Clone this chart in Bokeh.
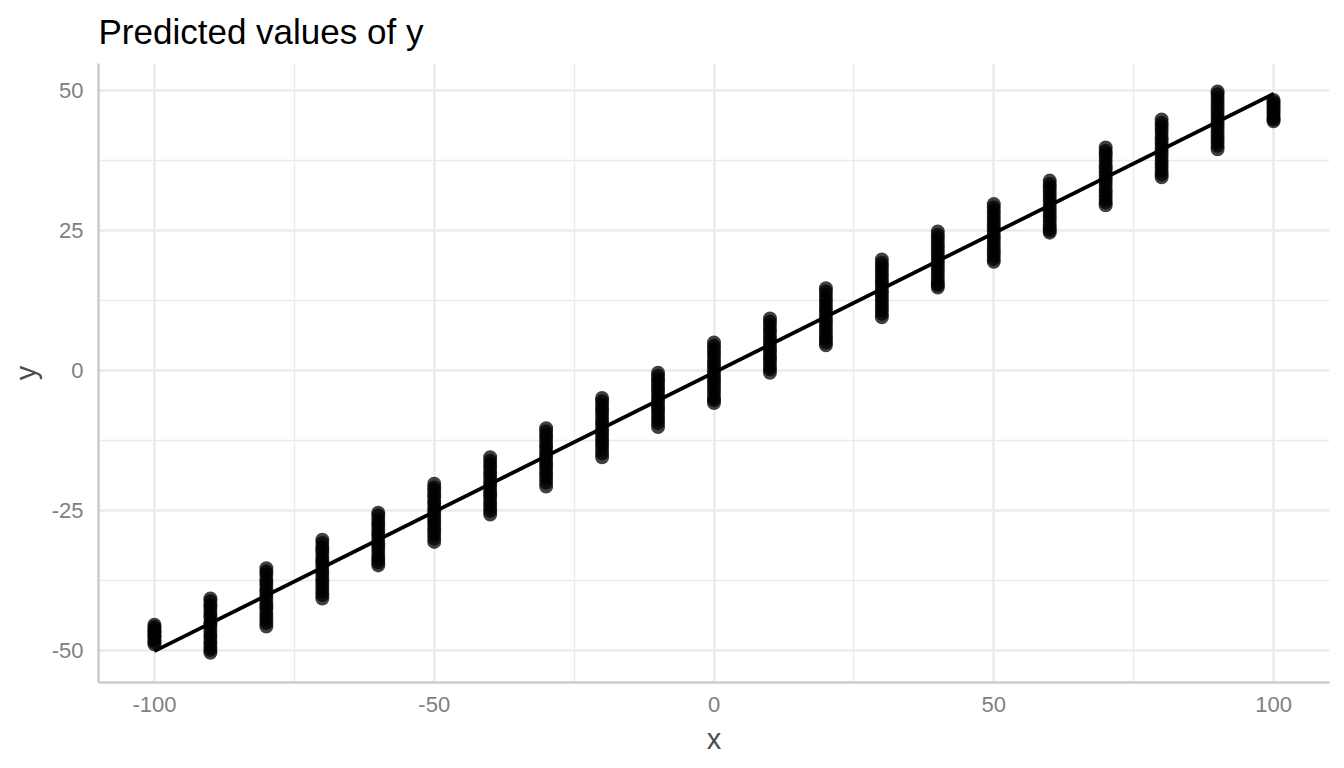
from bokeh.plotting import figure
from bokeh.models import Range1d, FixedTicker, ColumnDataSource
from bokeh.embed import file_html
from bokeh.resources import INLINE

# ---- data ----
x_levels = [-100, -90, -80, -70, -60, -50, -40, -30, -20, -10, 0,
            10, 20, 30, 40, 50, 60, 70, 80, 90, 100]

y_at_m100 = [-45.4, -45.8, -46.1, -46.5, -46.7, -47.0, -47.4, -47.6, -48.1, -48.5, -48.9]
y_at_m90 = [-40.7, -41.2, -41.9, -42.3, -43.0, -43.6, -44.1, -44.9, -45.3, -45.8, -46.6, -47.2, -47.7, -48.4, -48.9, -49.5, -49.9, -50.4]
y_at_m80 = [-35.3, -35.9, -36.4, -37.2, -37.8, -38.3, -39.1, -39.6, -40.2, -40.8, -41.5, -42.1, -42.6, -43.3, -43.9, -44.5, -45.1, -45.7]
y_at_m70 = [-30.2, -30.8, -31.5, -32.0, -32.6, -33.3, -33.9, -34.4, -35.1, -35.8, -36.3, -37.0, -37.6, -38.2, -38.9, -39.5, -40.1, -40.7]
y_at_m60 = [-25.4, -25.9, -26.6, -27.2, -27.7, -28.4, -29.0, -29.5, -30.2, -30.9, -31.4, -32.0, -32.7, -33.3, -33.8, -34.3, -34.8]
y_at_m50 = [-20.2, -20.9, -21.4, -22.1, -22.6, -23.3, -23.8, -24.5, -25.1, -25.6, -26.3, -26.9, -27.5, -28.1, -28.7, -29.3, -30.0, -30.6]
y_at_m40 = [-15.5, -16.1, -16.7, -17.2, -17.9, -18.5, -19.0, -19.7, -20.3, -20.8, -21.5, -22.1, -22.6, -23.3, -23.9, -24.5, -25.1, -25.7]
y_at_m30 = [-10.3, -10.9, -11.5, -12.0, -12.7, -13.3, -13.8, -14.5, -15.1, -15.6, -16.3, -16.9, -17.4, -18.1, -18.7, -19.3, -20.0, -20.7]
y_at_m20 = [-4.9, -5.5, -6.1, -6.8, -7.3, -7.9, -8.6, -9.2, -9.7, -10.4, -11.0, -11.5, -12.2, -12.8, -13.4, -14.1, -14.8, -15.5]
y_at_m10 = [-0.4, -1.0, -1.6, -2.1, -2.8, -3.3, -3.9, -4.6, -5.1, -5.7, -6.4, -6.9, -7.5, -8.2, -8.8, -9.4, -10.1]
y_at_0 = [5.0, 4.4, 3.8, 3.1, 2.6, 1.9, 1.3, 0.7, 0.1, -0.5, -1.2, -1.8, -2.3, -3.0, -3.6, -4.2, -4.9, -5.3, -5.8]
y_at_10 = [9.3, 8.7, 8.1, 7.4, 6.9, 6.2, 5.6, 5.1, 4.4, 3.8, 3.2, 2.5, 2.0, 1.4, 0.7, 0.2, -0.4]
y_at_20 = [14.7, 14.1, 13.5, 12.8, 12.3, 11.6, 11.0, 10.5, 9.8, 9.2, 8.6, 8.0, 7.4, 6.8, 6.1, 5.6, 5.0, 4.5]
y_at_30 = [19.8, 19.2, 18.6, 18.0, 17.4, 16.8, 16.1, 15.6, 15.0, 14.3, 13.8, 13.1, 12.5, 11.9, 11.3, 10.7, 10.1, 9.5]
y_at_40 = [24.8, 24.2, 23.6, 23.0, 22.3, 21.8, 21.1, 20.5, 19.9, 19.3, 18.7, 18.1, 17.5, 16.8, 16.2, 15.6, 15.2, 14.8]
y_at_50 = [29.7, 29.1, 28.5, 27.9, 27.2, 26.6, 26.0, 25.4, 24.8, 24.2, 23.6, 23.0, 22.3, 21.7, 21.1, 20.5, 19.9, 19.4]
y_at_60 = [33.9, 33.3, 32.7, 32.1, 31.5, 30.9, 30.3, 29.6, 29.0, 28.4, 27.8, 27.2, 26.6, 26.0, 25.4, 25.0, 24.6]
y_at_70 = [39.8, 39.2, 38.6, 38.0, 37.4, 36.7, 36.1, 35.5, 34.9, 34.3, 33.7, 33.1, 32.4, 31.8, 31.2, 30.6, 30.0, 29.5]
y_at_80 = [44.8, 44.2, 43.6, 43.0, 42.4, 41.7, 41.1, 40.5, 39.9, 39.3, 38.7, 38.1, 37.4, 36.8, 36.2, 35.6, 35.0, 34.5]
y_at_90 = [49.8, 49.3, 48.7, 48.1, 47.5, 46.8, 46.2, 45.6, 45.0, 44.4, 43.8, 43.2, 42.5, 41.9, 41.3, 40.7, 40.1, 39.5]
y_at_100 = [48.3, 47.9, 47.5, 47.1, 46.7, 46.3, 45.9, 45.5, 45.1, 44.8, 44.5]

line_x = [-100, 100]
line_y = [-50.1, 49.4]

x_ticks = [-100, -50, 0, 50, 100]
x_tick_labels = ["-100", "-50", "0", "50", "100"]
x_minor = [-75, -25, 25, 75]
y_ticks = [-50, -25, 0, 25, 50]
y_tick_labels = ["-50", "-25", "0", "25", "50"]
y_minor = [-37.5, -12.5, 12.5, 37.5]

title_text = "Predicted values of y"
x_title = "x"
y_title = "y"

# ---- build point table ----
columns = [y_at_m100, y_at_m90, y_at_m80, y_at_m70, y_at_m60, y_at_m50, y_at_m40,
           y_at_m30, y_at_m20, y_at_m10, y_at_0, y_at_10, y_at_20, y_at_30, y_at_40,
           y_at_50, y_at_60, y_at_70, y_at_80, y_at_90, y_at_100]
pts_x, pts_y = [], []
for xv, ys in zip(x_levels, columns):
    for yv in ys:
        pts_x.append(xv)
        pts_y.append(yv)
src = ColumnDataSource(dict(x=pts_x, y=pts_y))

FONT = "Liberation Sans"

p = figure(width=1336, height=760, output_backend="svg", toolbar_location=None,
           x_range=Range1d(-110, 110), y_range=Range1d(-55.7, 54.8),
           min_border_left=98, min_border_right=7, min_border_top=63,
           min_border_bottom=78, title=title_text)

p.outline_line_color = None
p.background_fill_color = "white"
p.border_fill_color = "white"

p.title.text_font = FONT
p.title.text_font_size = "35px"
p.title.text_font_style = "normal"
p.title.text_color = "black"
p.title.align = "left"
p.title.standoff = 22
p.title.vertical_align = "top"

# grids
for g in (p.xgrid, p.ygrid):
    g.grid_line_color = "#EBEBEB"
    g.grid_line_width = 2.6
    g.minor_grid_line_color = "#EBEBEB"
    g.minor_grid_line_width = 1.4

p.xaxis.ticker = FixedTicker(ticks=x_ticks, minor_ticks=x_minor)
p.yaxis.ticker = FixedTicker(ticks=y_ticks, minor_ticks=y_minor)
p.xaxis.major_label_overrides = {t: s for t, s in zip(x_ticks, x_tick_labels)}
p.yaxis.major_label_overrides = {t: s for t, s in zip(y_ticks, y_tick_labels)}

for ax in (p.xaxis, p.yaxis):
    ax.axis_line_color = "#CCCCCC"
    ax.axis_line_width = 2.6
    ax.major_tick_line_color = None
    ax.minor_tick_line_color = None
    ax.major_tick_out = 0
    ax.major_tick_in = 0
    ax.minor_tick_out = 0
    ax.minor_tick_in = 0
    ax.major_label_text_font = FONT
    ax.major_label_text_font_size = "22px"
    ax.major_label_text_color = "#7F7F7F"
    ax.axis_label_text_font = FONT
    ax.axis_label_text_font_size = "29px"
    ax.axis_label_text_font_style = "normal"
    ax.axis_label_text_color = "#4D4D4D"

p.xaxis.axis_label = x_title
p.yaxis.axis_label = y_title
p.xaxis.major_label_standoff = 14
p.yaxis.major_label_standoff = 15
p.xaxis.axis_label_standoff = 8
p.yaxis.axis_label_standoff = 7

p.scatter("x", "y", source=src, size=14, fill_color="black", fill_alpha=0.75,
          line_color=None)
p.line(line_x, line_y, line_color="black", line_width=3.8)

open("out.html", "w").write(file_html(p, INLINE))
